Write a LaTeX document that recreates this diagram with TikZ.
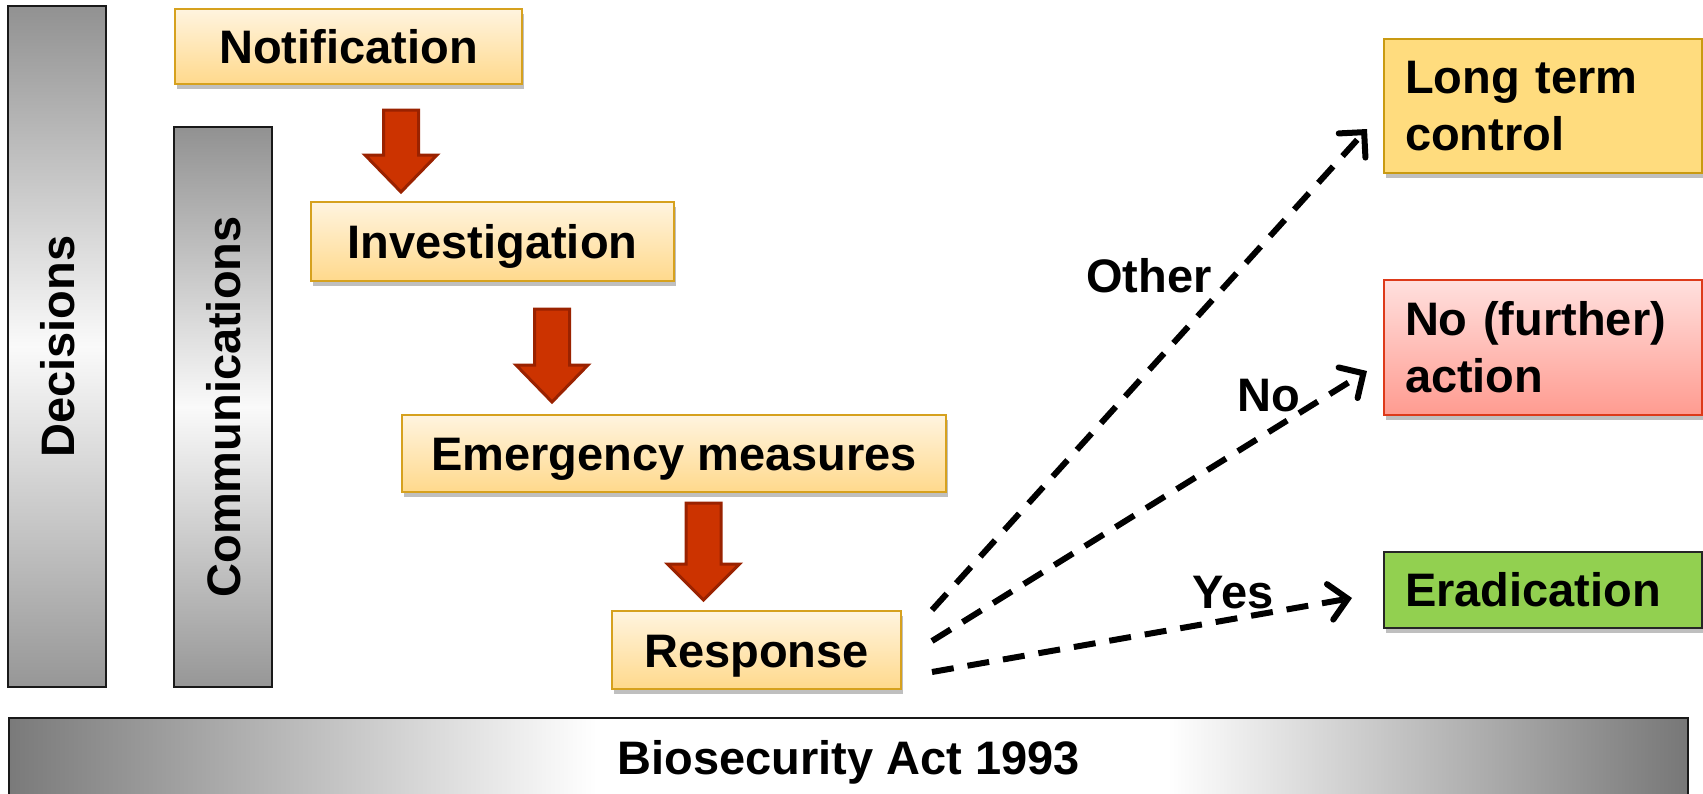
\documentclass[tikz,border=0pt]{standalone}
\usepackage{fontspec}
\setmainfont{Liberation Sans}
\usetikzlibrary{shadows,calc,arrows.meta}

\definecolor{boxtop}{HTML}{FFF4DF}
\definecolor{boxbot}{HTML}{FFD98C}
\definecolor{boxline}{HTML}{D6A11E}
\definecolor{arrfill}{HTML}{CC3300}
\definecolor{arrline}{HTML}{9A2200}
\definecolor{bargray}{HTML}{7A7A7A}
\definecolor{bargrayr}{HTML}{777777}
\definecolor{ltcfill}{HTML}{FFDC7E}
\definecolor{ltcline}{HTML}{C99A12}
\definecolor{natop}{HTML}{FFE0DE}
\definecolor{nabot}{HTML}{FF9B90}
\definecolor{naline}{HTML}{DD3A1A}
\definecolor{erafill}{HTML}{92D050}

% legislation bar: grey at both ends, white band in the middle
\pgfdeclarehorizontalshading{actbar}{100bp}{color(0bp)=(bargray); color(25bp)=(bargray); color(42.5bp)=(white); color(59.5bp)=(white); color(75bp)=(bargrayr); color(100bp)=(bargrayr)}

\tikzset{
  boxshadow/.style={drop shadow={shadow xshift=2pt, shadow yshift=-5pt, opacity=0.25, fill=black}},
  stage/.style={draw=boxline, line width=2pt, top color=boxtop, bottom color=boxbot,
    boxshadow, inner sep=0pt, text height=34pt, text depth=0pt},
  sidebar/.style={draw=black!90, line width=2pt, top color=black!43, bottom color=black!41,
    middle color=black!2, inner sep=0pt},
  outcome/.style={line width=2pt, text width=276pt, align=left, inner xsep=21pt,
    inner ysep=0pt, anchor=north west, boxshadow},
  lbl/.style={inner sep=0pt, text height=34pt, text depth=0pt},
  flow/.style={line width=6pt, dash pattern=on 22pt off 14pt,
    -{Straight Barb[length=18pt,width=36pt,line cap=round]}},
  arrowbody/.style={fill=arrfill, draw=arrline, line width=3pt, line join=miter},
  pics/downarrow/.style 2 args={code={
    \draw[arrowbody] (-17.5,0) -- (17.5,0) -- (17.5,#1) -- (36,#1) -- (0,#2)
      -- (-36,#1) -- (-17.5,#1) -- cycle;}}
}

\begin{document}
\begin{tikzpicture}[x=1pt, y=-1pt, font=\fontsize{47}{57}\selectfont\bfseries]
\fill[white] (0,0) rectangle (1703,793);
\useasboundingbox (0,0) rectangle (1703,793);

% framing bars
\node[sidebar, minimum width=98pt, minimum height=681pt] (dec) at (57,346.5) {};
\node[rotate=90, lbl] (dectext) at (dec.center) {Decisions};
\node[sidebar, minimum width=98pt, minimum height=560pt] (com) at (223,407) {};
\node[rotate=90, lbl] (comtext) at (com.center) {Communications};
\node[draw=black!90, line width=2pt, shading=actbar, minimum width=1679pt,
  minimum height=90pt, anchor=north west, inner sep=0pt] (act) at (8,717) {};
\node[lbl] (acttext) at ($(act.north)+(0,40)$) {Biosecurity Act 1993};

% process stages
\node[stage, minimum width=347pt, minimum height=75pt] (notif) at (348.5,46.5) {Notification};
\node[stage, minimum width=363pt, minimum height=79pt] (invest) at (492.5,241.5) {Investigation};
\node[stage, minimum width=544pt, minimum height=77pt] (emerg) at (674,453.5) {Emergency measures};
\node[stage, minimum width=289pt, minimum height=78pt] (resp) at (756.5,650) {Response};

% block arrows between stages
\pic (a1) at (401,110) {downarrow={45}{82}};
\pic (a2) at (552,309) {downarrow={56}{93}};
\pic (a3) at (703.5,503) {downarrow={61}{97}};

% outcomes
\node[outcome, fill=ltcfill, draw=ltcline, minimum height=134pt] (ltc) at (1383,38) {Long term\\control};
\node[outcome, top color=natop, bottom color=nabot, draw=naline, minimum height=135pt] (na) at (1383,279) {No (further)\\action};
\node[outcome, fill=erafill, draw=black!85, minimum height=76pt] (era) at (1383,551) {Eradication};

% decision branches
\coordinate (sOther) at ($(resp.east)+(30,-40)$);
\coordinate (sNo) at ($(resp.east)+(30,-9)$);
\coordinate (sYes) at ($(resp.east)+(30,22)$);
\coordinate (eOther) at ($(ltc.west)+(-16,23)$);
\coordinate (eNo) at ($(na.west)+(-16,23.5)$);
\coordinate (eYes) at ($(era.west)+(-31,8)$);
\draw[flow] (sOther) -- (eOther);
\draw[flow] (sNo) -- (eNo);
\draw[flow] (sYes) -- (eYes);

\node[lbl] (lOther) at (1149,275) {Other};
\node[lbl] (lNo) at (1269,394) {No};
\node[lbl] (lYes) at (1233,591) {Yes};
\end{tikzpicture}
\end{document}
